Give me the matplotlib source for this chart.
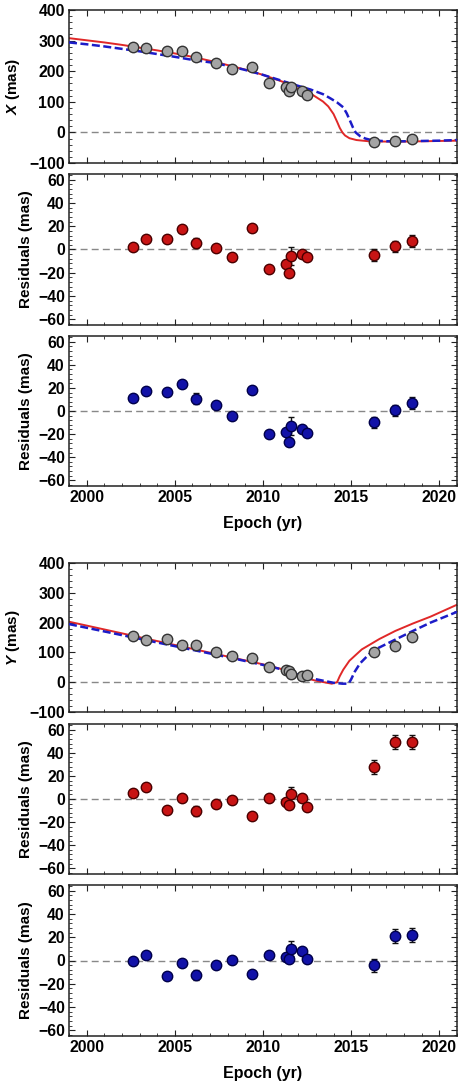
import numpy as np
import matplotlib.pyplot as plt
from matplotlib.ticker import MultipleLocator

plt.rcParams['font.family'] = ['Liberation Sans', 'DejaVu Sans']
plt.rcParams['font.weight'] = 'bold'
plt.rcParams['mathtext.fontset'] = 'custom'
plt.rcParams['mathtext.it'] = 'Liberation Sans:bold:italic'

# observation epochs
epoch = [2002.62, 2003.39, 2004.54, 2005.41, 2006.21, 2007.31, 2008.27, 2009.38,
         2010.36, 2011.28, 2011.49, 2011.56, 2012.20, 2012.49, 2016.29, 2017.47, 2018.44]

# measured positions
x_obs = [279, 277, 267, 267, 245, 228, 207, 214, 163, 147, 136, 148, 134, 123, -33, -28, -22]
y_obs = [156, 141, 146, 124, 124, 103, 87, 82, 52, 41, 38, 27, 21, 24, 102, 121, 151]

# residuals of the two fits
x_res_red = [2.1, 8.8, 8.8, 17.9, 5.6, 1.5, -6.5, 18.8, -16.8, -12.4, -20.0, -5.6, -4.1, -6.8, -4.7, 2.6, 7.4]
x_res_blue = [11.3, 17.1, 16.2, 23.8, 10.7, 4.9, -4.3, 18.0, -19.7, -18.3, -26.7, -13.0, -15.4, -19.1, -9.9, 0.6, 7.0]
y_res_red = [5.1, 10.0, -9.4, 0.6, -10.6, -4.3, -1.1, -14.3, 0.6, -2.3, -5.1, 4.3, 0.6, -6.6, 28.0, 49.7, 49.4]
y_res_blue = [-0.3, 5.1, -13.1, -2.0, -12.3, -4.3, 0.3, -11.4, 4.9, 3.4, 1.4, 10.3, 8.3, 1.4, -4.3, 21.0, 21.7]
x_err = [1, 1, 1, 1, 4.5, 1, 2.5, 1, 1, 2, 2, 7.5, 1, 1, 5, 5, 5]
y_err = [1, 1, 1, 1, 4.5, 1, 1, 1, 2, 1, 1, 6.5, 1, 1, 6, 6, 6]

# model curves
x_red_t = [1999, 2000, 2001, 2002, 2003, 2004, 2005, 2006, 2007, 2008, 2009, 2010, 2011, 2011.5,
           2012, 2012.7, 2013.4, 2013.7, 2014.0, 2014.2, 2014.35, 2014.5, 2014.65, 2014.9, 2015.3,
           2016, 2017, 2018, 2019, 2020, 2021]
x_red = [308, 301, 294, 286, 277, 268, 258, 247, 234, 220, 205, 188, 168, 157,
         142, 127, 101, 85, 60, 35, 15, 0, -10, -19, -25,
         -29, -30, -30, -29, -28, -27]
x_blue_t = [1999, 2000, 2001, 2002, 2003, 2004, 2005, 2006, 2007, 2008, 2009, 2010, 2011, 2012,
            2012.7, 2013.4, 2013.8, 2014.2, 2014.55, 2014.75, 2014.95, 2015.1, 2015.25, 2015.5,
            2015.8, 2016.2, 2017, 2018, 2019, 2020, 2021]
x_blue = [294, 288, 281, 273, 265, 256, 247, 237, 229, 218, 204, 188, 170, 152,
          140, 125, 112, 98, 82, 62, 36, 16, 0, -12,
          -20, -26, -29, -29, -28, -27, -25]

y_red_t = [1999, 2002, 2005, 2008, 2010, 2011, 2012, 2013, 2013.9, 2014.2, 2014.35, 2014.55,
           2014.9, 2015.6, 2016.6, 2017.5, 2018.5, 2019.5, 2021]
y_red = [203, 164, 125, 86, 60, 45, 20, 5, -5, 0, 20, 42,
         72, 110, 145, 172, 197, 220, 260]
y_blue_t = [1999, 2002, 2005, 2008, 2010, 2011, 2012, 2013, 2014, 2014.5, 2014.85, 2015.0,
            2015.2, 2015.5, 2016.2, 2017.4, 2018.5, 2019.5, 2021]
y_blue = [195, 158, 121, 84, 58, 44, 25, 10, -2, -5, -5, 10,
          35, 63, 105, 140, 172, 200, 236]

W, H = 461, 1081
fig = plt.figure(figsize=(W / 100, H / 100), dpi=100)


def panel(top, bottom):
    ax = fig.add_axes([69 / W, 1 - bottom / H, 388 / W, (bottom - top) / H])
    ax.set_xlim(1999, 2021)
    ax.xaxis.set_major_locator(MultipleLocator(5))
    ax.xaxis.set_minor_locator(MultipleLocator(1))
    ax.tick_params(which='both', direction='in', top=True, right=True,
                   labelsize=11.3, color='#222222', pad=3)
    ax.tick_params(which='major', length=4)
    ax.tick_params(which='minor', length=2)
    for s in ax.spines.values():
        s.set_color('#222222')
        s.set_linewidth(1.1)
    ax.axhline(0, color='#888888', lw=1.0, ls=(0, (5, 3)), zorder=1)
    return ax


def pos_panel(ax, t_r, v_r, t_b, v_b, obs, label):
    ax.plot(t_r, v_r, color='#e02828', lw=1.4, zorder=2)
    ax.plot(t_b, v_b, color='#1c1cc8', lw=1.8, ls=(0, (3.2, 1.4)), zorder=3)
    ax.plot(epoch, obs, 'o', ms=7.5, mfc='#a4a4a4', mec='#333333', mew=1.0, zorder=4)
    ax.set_ylim(-100, 400)
    ax.yaxis.set_major_locator(MultipleLocator(100))
    ax.yaxis.set_minor_locator(MultipleLocator(20))
    ax.set_xticklabels([])
    ax.set_ylabel(label, fontsize=11, fontweight='bold')
    ax.yaxis.set_label_coords(-0.121, 0.5)


def res_panel(ax, res, err, fc, ec, last):
    ax.errorbar(epoch, res, yerr=err, fmt='o', ms=7.5, mfc=fc, mec=ec, mew=1.0,
                ecolor='#111111', elinewidth=1.0, capsize=2, capthick=1.0, zorder=4)
    ax.set_ylim(-65, 65)
    ax.yaxis.set_major_locator(MultipleLocator(20))
    ax.yaxis.set_minor_locator(MultipleLocator(4))
    ax.set_ylabel('Residuals (mas)', fontsize=11, fontweight='bold')
    ax.yaxis.set_label_coords(-0.093, 0.5)
    if last:
        ax.set_xlabel('Epoch (yr)', fontsize=11.5, fontweight='bold')
        ax.xaxis.set_label_coords(0.5, -0.2)
    else:
        ax.set_xticklabels([])


ax1 = panel(10, 163)
pos_panel(ax1, x_red_t, x_red, x_blue_t, x_blue, x_obs, r'$X$ (mas)')
ax2 = panel(174, 325)
res_panel(ax2, x_res_red, x_err, '#c81414', '#4a0000', False)
ax3 = panel(336, 486)
res_panel(ax3, x_res_blue, x_err, '#1212a8', '#00004a', True)

ax4 = panel(563, 712)
pos_panel(ax4, y_red_t, y_red, y_blue_t, y_blue, y_obs, r'$Y$ (mas)')
ax5 = panel(724, 874)
res_panel(ax5, y_res_red, y_err, '#c81414', '#4a0000', False)
ax6 = panel(885, 1036)
res_panel(ax6, y_res_blue, y_err, '#1212a8', '#00004a', True)

for ax in (ax1, ax2, ax3, ax4, ax5, ax6):
    for lab in ax.get_xticklabels() + ax.get_yticklabels():
        lab.set_fontweight('bold')

fig.savefig('out.png', dpi=100)
